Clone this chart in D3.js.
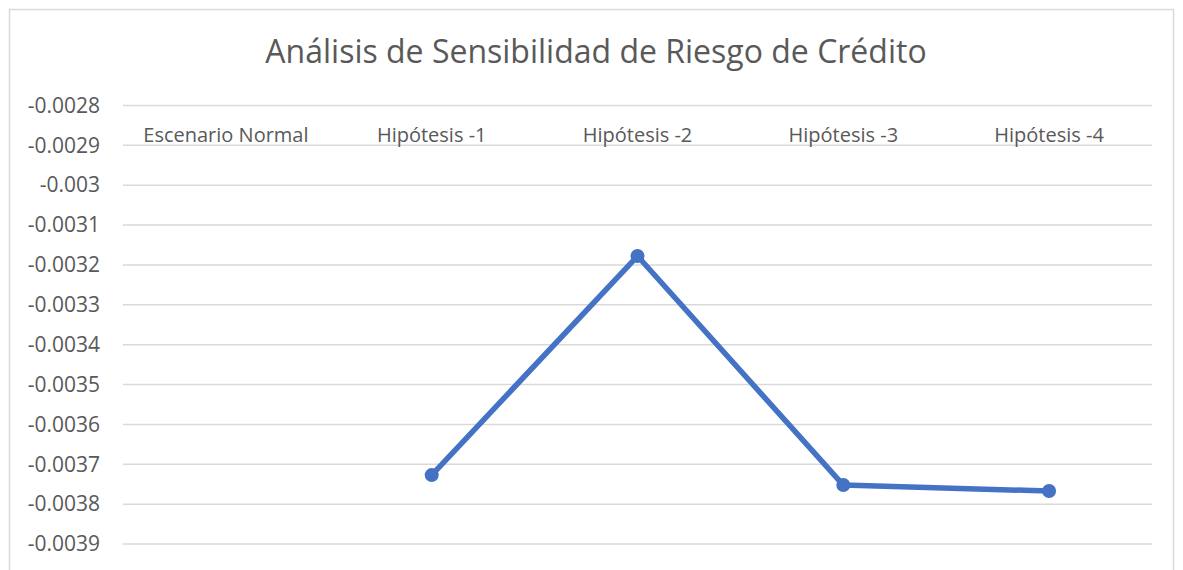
<!DOCTYPE html>
<html>
<head>
<meta charset="utf-8">
<script src="https://cdn.jsdelivr.net/npm/d3@7"></script>
<style>
  body { margin: 0; background: #fff; }
  text { font-family: "Open Sans", sans-serif; fill: #595959; }
</style>
</head>
<body>
<div id="chart"></div>
<script>
var categories = ["Escenario Normal", "Hipótesis -1", "Hipótesis -2", "Hipótesis -3", "Hipótesis -4"];
var values = [null, -0.003727, -0.0031775, -0.003752, -0.003767];
var yTicks = [-0.0028, -0.0029, -0.003, -0.0031, -0.0032, -0.0033, -0.0034, -0.0035, -0.0036, -0.0037, -0.0038, -0.0039];
var title = "Análisis de Sensibilidad de Riesgo de Crédito";

var width = 1183, height = 570,
    plotLeft = 123, plotRight = 1152, plotTop = 105.5;

var svg = d3.select("#chart").append("svg")
  .attr("width", width)
  .attr("height", height);

// chart frame
svg.append("rect")
  .attr("x", 9.5).attr("y", 9.5)
  .attr("width", 1164).attr("height", 600)
  .attr("fill", "#fff")
  .attr("stroke", "#d9d9d9")
  .attr("stroke-width", 1.5);

var x = d3.scaleBand().domain(categories).range([plotLeft, plotRight]);
var y = d3.scaleLinear().domain([-0.0028, -0.004]).range([plotTop, plotTop + 39.87 * 12]);

// gridlines
svg.append("g")
  .selectAll("line")
  .data(yTicks.concat([-0.004]))
  .enter().append("line")
  .attr("x1", plotLeft).attr("x2", plotRight)
  .attr("y1", function(d){ return y(d); })
  .attr("y2", function(d){ return y(d); })
  .attr("stroke", "#d9d9d9")
  .attr("stroke-width", 1.5);

// y axis labels
var yAxis = d3.axisLeft(y).tickValues(yTicks).tickSize(0).tickPadding(0)
  .tickFormat(function(d){ return String(+d.toFixed(4)); });
var ya = svg.append("g").attr("transform", "translate(" + 100 + ",0)").call(yAxis);
ya.select(".domain").remove();
ya.selectAll("text").style("font-size", "21px").attr("fill", "#595959");

// category labels at top
var xAxis = d3.axisTop(x).tickSize(0).tickPadding(0);
var xa = svg.append("g").attr("transform", "translate(0," + 142 + ")").call(xAxis);
xa.select(".domain").remove();
xa.selectAll("text").style("font-size", "20px").attr("fill", "#595959");

// title
svg.append("text")
  .attr("x", 596).attr("y", 63)
  .attr("text-anchor", "middle")
  .style("font-size", "32px")
  .text(title);

var pts = categories.map(function(c, i){ return {c: c, v: values[i]}; })
  .filter(function(d){ return d.v !== null; });

var line = d3.line()
  .x(function(d){ return x(d.c) + x.bandwidth() / 2; })
  .y(function(d){ return y(d.v); });

svg.append("path")
  .datum(pts)
  .attr("d", line)
  .attr("fill", "none")
  .attr("stroke", "#4472c4")
  .attr("stroke-width", 5.5)
  .attr("stroke-linejoin", "round");

svg.append("g").selectAll("circle")
  .data(pts)
  .enter().append("circle")
  .attr("cx", function(d){ return x(d.c) + x.bandwidth() / 2; })
  .attr("cy", function(d){ return y(d.v); })
  .attr("r", 7)
  .attr("fill", "#4472c4");
</script>
</body>
</html>
